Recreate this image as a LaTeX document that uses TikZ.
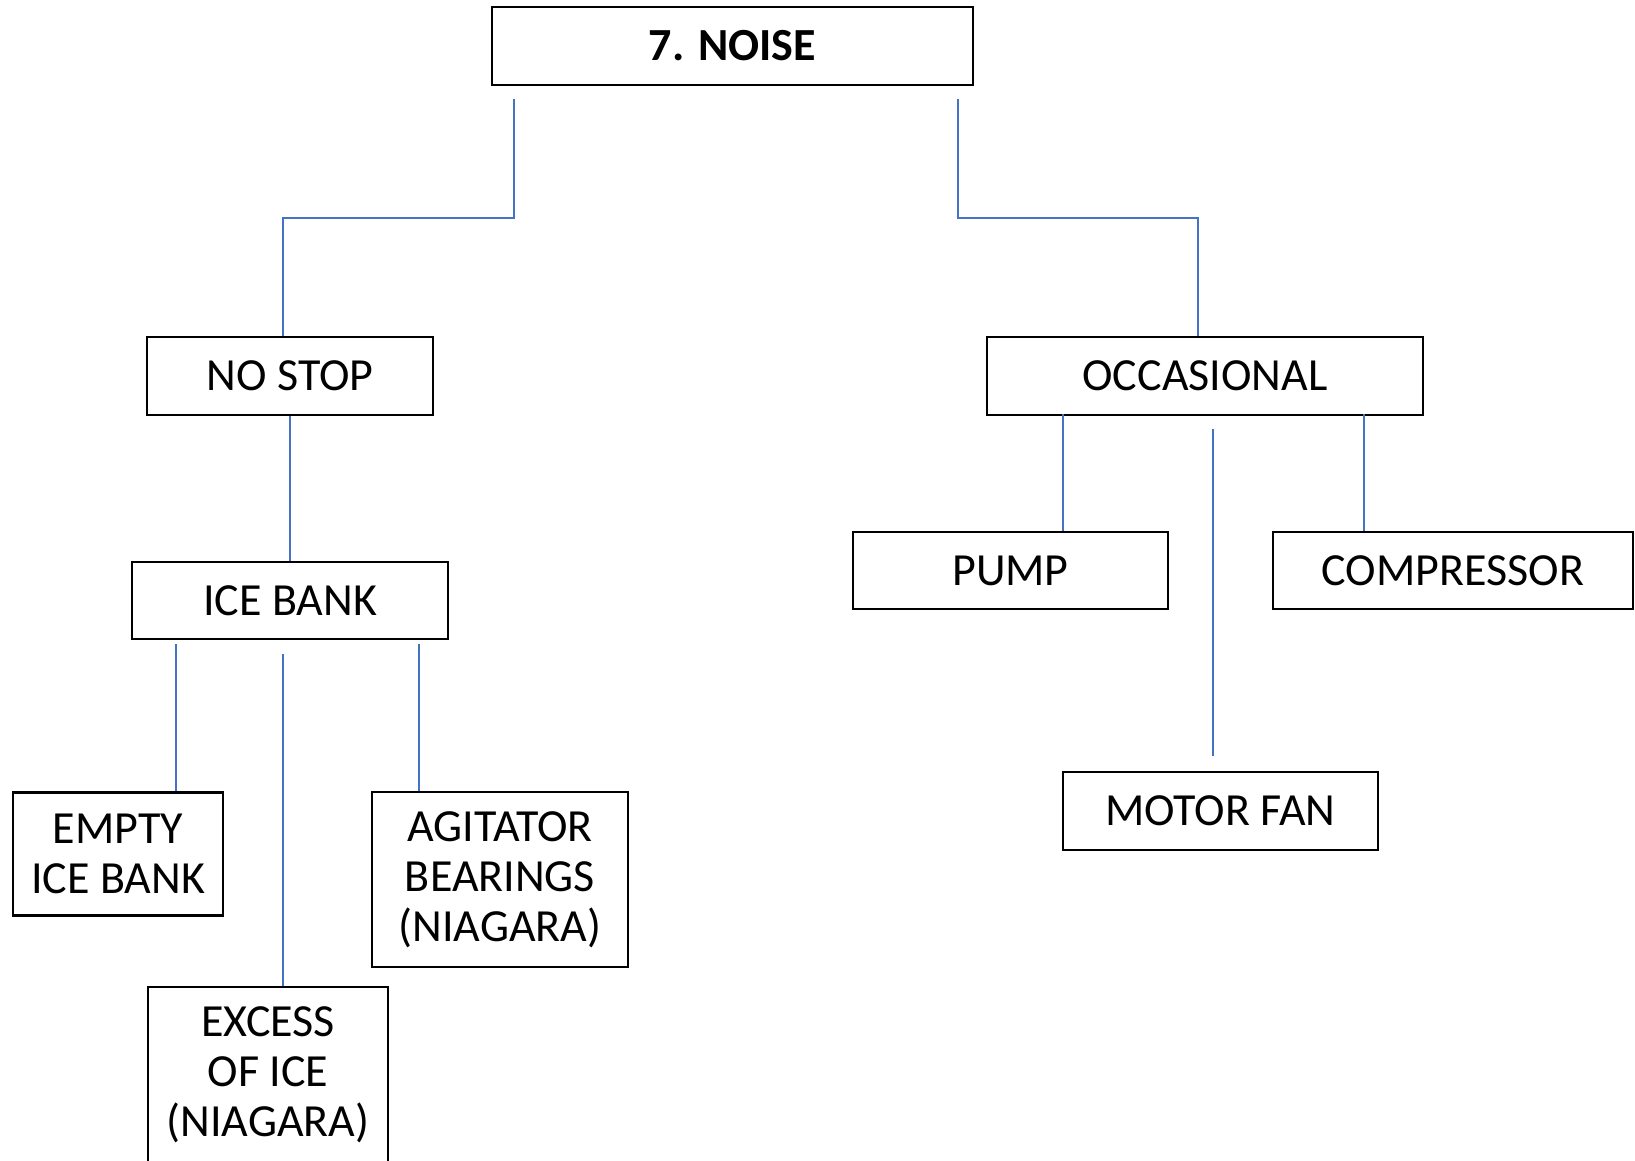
\documentclass[tikz,border=0pt]{standalone}
\usepackage{fontspec}
\setmainfont{Carlito}
\definecolor{lineblue}{RGB}{68,114,196}
\begin{document}
\begin{tikzpicture}[x=1pt,y=-1pt,
  box/.style={draw=black,line width=2.5pt,rectangle,inner sep=0pt,align=center,
    font=\fontsize{46}{50}\selectfont},
  conn/.style={draw=lineblue,line width=2pt}]
\useasboundingbox (0,0) rectangle (1635,1161);
\node[box,minimum width=481pt,minimum height=78pt,font=\fontsize{46}{50}\selectfont\bfseries] (top) at (732.5,46) {7. NOISE};
\node[box,minimum width=286pt,minimum height=78pt] (nostop) at (290,376) {NO STOP};
\node[box,minimum width=316pt,minimum height=77pt] (icebank) at (290,600.5) {ICE BANK};
\node[box,minimum width=210pt,minimum height=123pt] (empty) at (118,854) {EMPTY\\ICE BANK};
\node[box,minimum width=240pt,minimum height=176pt] (excess) at (268,1075) {EXCESS\\OF ICE\\(NIAGARA)};
\node[box,minimum width=256pt,minimum height=175pt] (agitator) at (500,879.5) {AGITATOR\\BEARINGS\\(NIAGARA)};
\node[box,minimum width=436pt,minimum height=78pt] (occ) at (1205,376) {OCCASIONAL};
\node[box,minimum width=315pt,minimum height=77pt] (pump) at (1010.5,570.5) {PUMP};
\node[box,minimum width=360pt,minimum height=77pt] (comp) at (1453,570.5) {COMPRESSOR};
\node[box,minimum width=315pt,minimum height=78pt] (motor) at (1220.5,811) {MOTOR FAN};
% connectors
\draw[conn] ([xshift=23pt,yshift=-13pt]top.south west) -- ++(0,119) -| ([xshift=-7pt]nostop.north);
\draw[conn] ([xshift=-16pt,yshift=-13pt]top.south east) -- ++(0,119) -| ([xshift=-7pt]occ.north);
\draw[conn] (nostop) -- (icebank);
\draw[conn] ([xshift=45pt,yshift=-4pt]icebank.south west) -- ([xshift=45pt]icebank.south west |- empty.north);
\draw[conn] ([xshift=-7pt,yshift=-14pt]icebank.south) -- ([xshift=-7pt]icebank.south |- excess.north);
\draw[conn] ([xshift=-30pt,yshift=-4pt]icebank.south east) -- ([xshift=-30pt]icebank.south east |- agitator.north);
\draw[conn] ([xshift=77pt,yshift=2pt]occ.south west) -- ([xshift=77pt]occ.south west |- pump.north);
\draw[conn] ([xshift=-60pt,yshift=2pt]occ.south east) -- ([xshift=-60pt]occ.south east |- comp.north);
\draw[conn,shorten >=15pt] ([xshift=8pt,yshift=-13pt]occ.south) -- ([xshift=8pt]occ.south |- motor.north);
\end{tikzpicture}
\end{document}
